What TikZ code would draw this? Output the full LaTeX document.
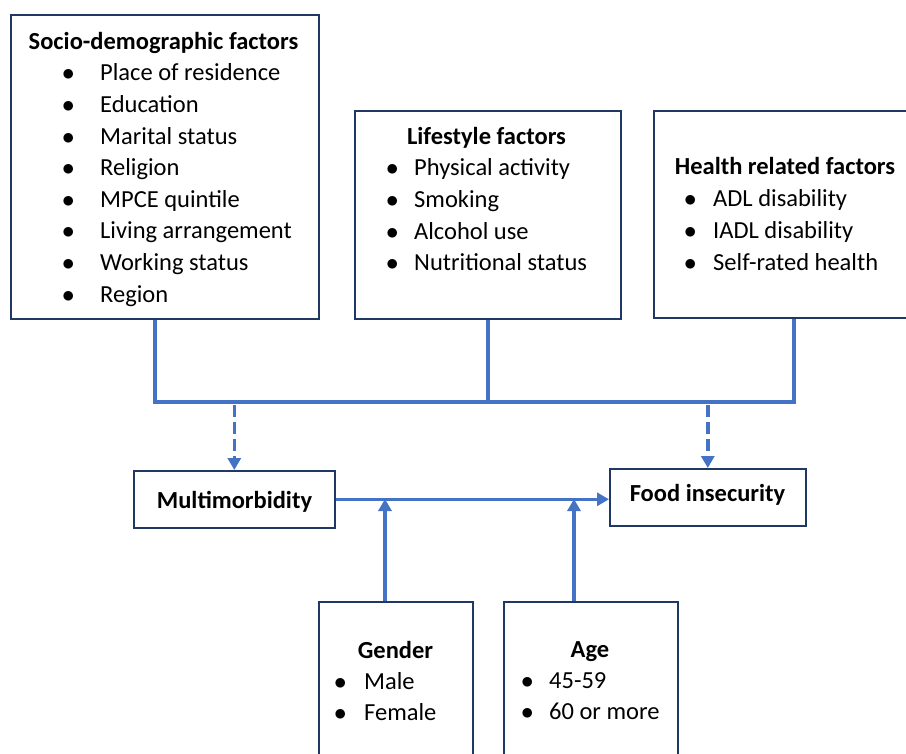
\documentclass[tikz,border=0pt]{standalone}
\usepackage{fontspec}
\setmainfont{Carlito}
\usepackage{tikz}
\usepackage{xcolor}
\usetikzlibrary{arrows.meta,positioning}
\definecolor{boxnavy}{RGB}{32,56,100}
\definecolor{linkblue}{RGB}{68,114,196}
\newcommand{\figfont}{\fontsize{24.5}{31.6}\selectfont}
\newcommand{\bulleted}[2]{\makebox[#1][l]{$\bullet$}#2}
\tikzset{
  factorbox/.style={draw=boxnavy, line width=1.6pt, fill=white, anchor=north west, inner sep=0pt},
  headtxt/.style={font=\figfont\bfseries, anchor=base, inner sep=0pt},
  itemtxt/.style={anchor=base west, inner sep=0pt},
  link/.style={draw=linkblue, line width=3.4pt, line join=miter},
  linkarrow/.style={link, -{Triangle[width=13pt,length=12pt]}},
  dasharrow/.style={linkarrow, dash pattern=on 12pt off 5pt},
}

\begin{document}
\begin{tikzpicture}[x=1pt, y=-1pt, font=\figfont]
  \useasboundingbox (0,0) rectangle (906,754);
  \clip (0,0) rectangle (906,754);

  % boxes
  \node[factorbox, minimum width=308pt, minimum height=304pt] (socio) at (10,14) {};
  \node[factorbox, minimum width=266pt, minimum height=208pt] (life) at (354,110) {};
  \node[factorbox, minimum width=267pt, minimum height=207pt] (health) at (653,110) {};
  \node[factorbox, minimum width=201pt, minimum height=57pt] (multi) at (133,470) {};
  \node[factorbox, minimum width=196pt, minimum height=57pt] (food) at (609,468) {};
  \node[factorbox, minimum width=154pt, minimum height=190pt] (gender) at (318,601) {};
  \node[factorbox, minimum width=174pt, minimum height=190pt] (age) at (503,601) {};

  % texts
  \node[headtxt] (socio-head) at (163.5,50) {Socio-demographic factors};
  \foreach \entry [count=\i] in {Place of residence, Education, Marital status, Religion,
      MPCE quintile, Living arrangement, Working status, Region}
    \node[itemtxt] (socio-\i) at (62,{81+31.6*(\i-1)}) {\bulleted{38pt}{\entry}};

  \node[headtxt] (life-head) at (486.5,145) {Lifestyle factors};
  \foreach \entry [count=\i] in {Physical activity, Smoking, Alcohol use, Nutritional status}
    \node[itemtxt] (life-\i) at (386,{176+31.6*(\i-1)}) {\bulleted{28pt}{\entry}};

  \node[headtxt] (health-head) at (785,175) {Health related factors};
  \foreach \entry [count=\i] in {ADL disability, IADL disability, Self-rated health}
    \node[itemtxt] (health-\i) at (684,{207+31.6*(\i-1)}) {\bulleted{29pt}{\entry}};

  \node[headtxt] (multi-txt) at (234.5,508) {Multimorbidity};
  \node[headtxt] (food-txt) at (707.5,501) {Food insecurity};

  \node[headtxt] (gender-head) at (395.5,658) {Gender};
  \foreach \entry [count=\i] in {Male, Female}
    \node[itemtxt] (gender-\i) at (334,{689+31.6*(\i-1)}) {\bulleted{30pt}{\entry}};

  \node[headtxt] (age-head) at (590,657) {Age};
  \foreach \entry [count=\i] in {45-59, 60 or more}
    \node[itemtxt] (age-\i) at (521,{688+31.6*(\i-1)}) {\bulleted{28pt}{\entry}};

  % connectors
  \coordinate (bus-l) at (155,402);
  \coordinate (bus-r) at (794,402);
  \coordinate (g-in) at (385,499);
  \coordinate (a-in) at (574,499);
  \draw[link] (socio.south -| bus-l) -- (bus-l) -- (bus-r) -- (health.south -| bus-r);
  \draw[link] (life.south) -- (life.south |- bus-l);
  \draw[dasharrow] ([yshift=-3pt]multi.north |- bus-l) -- (multi.north);
  \draw[dasharrow] ([yshift=-3pt]food.north |- bus-r) -- (food.north);
  \draw[linkarrow] (multi.east) -- (multi.east -| food.west);
  \draw[linkarrow] (gender.north -| g-in) -- (g-in);
  \draw[linkarrow] (age.north -| a-in) -- (a-in);
\end{tikzpicture}
\end{document}
